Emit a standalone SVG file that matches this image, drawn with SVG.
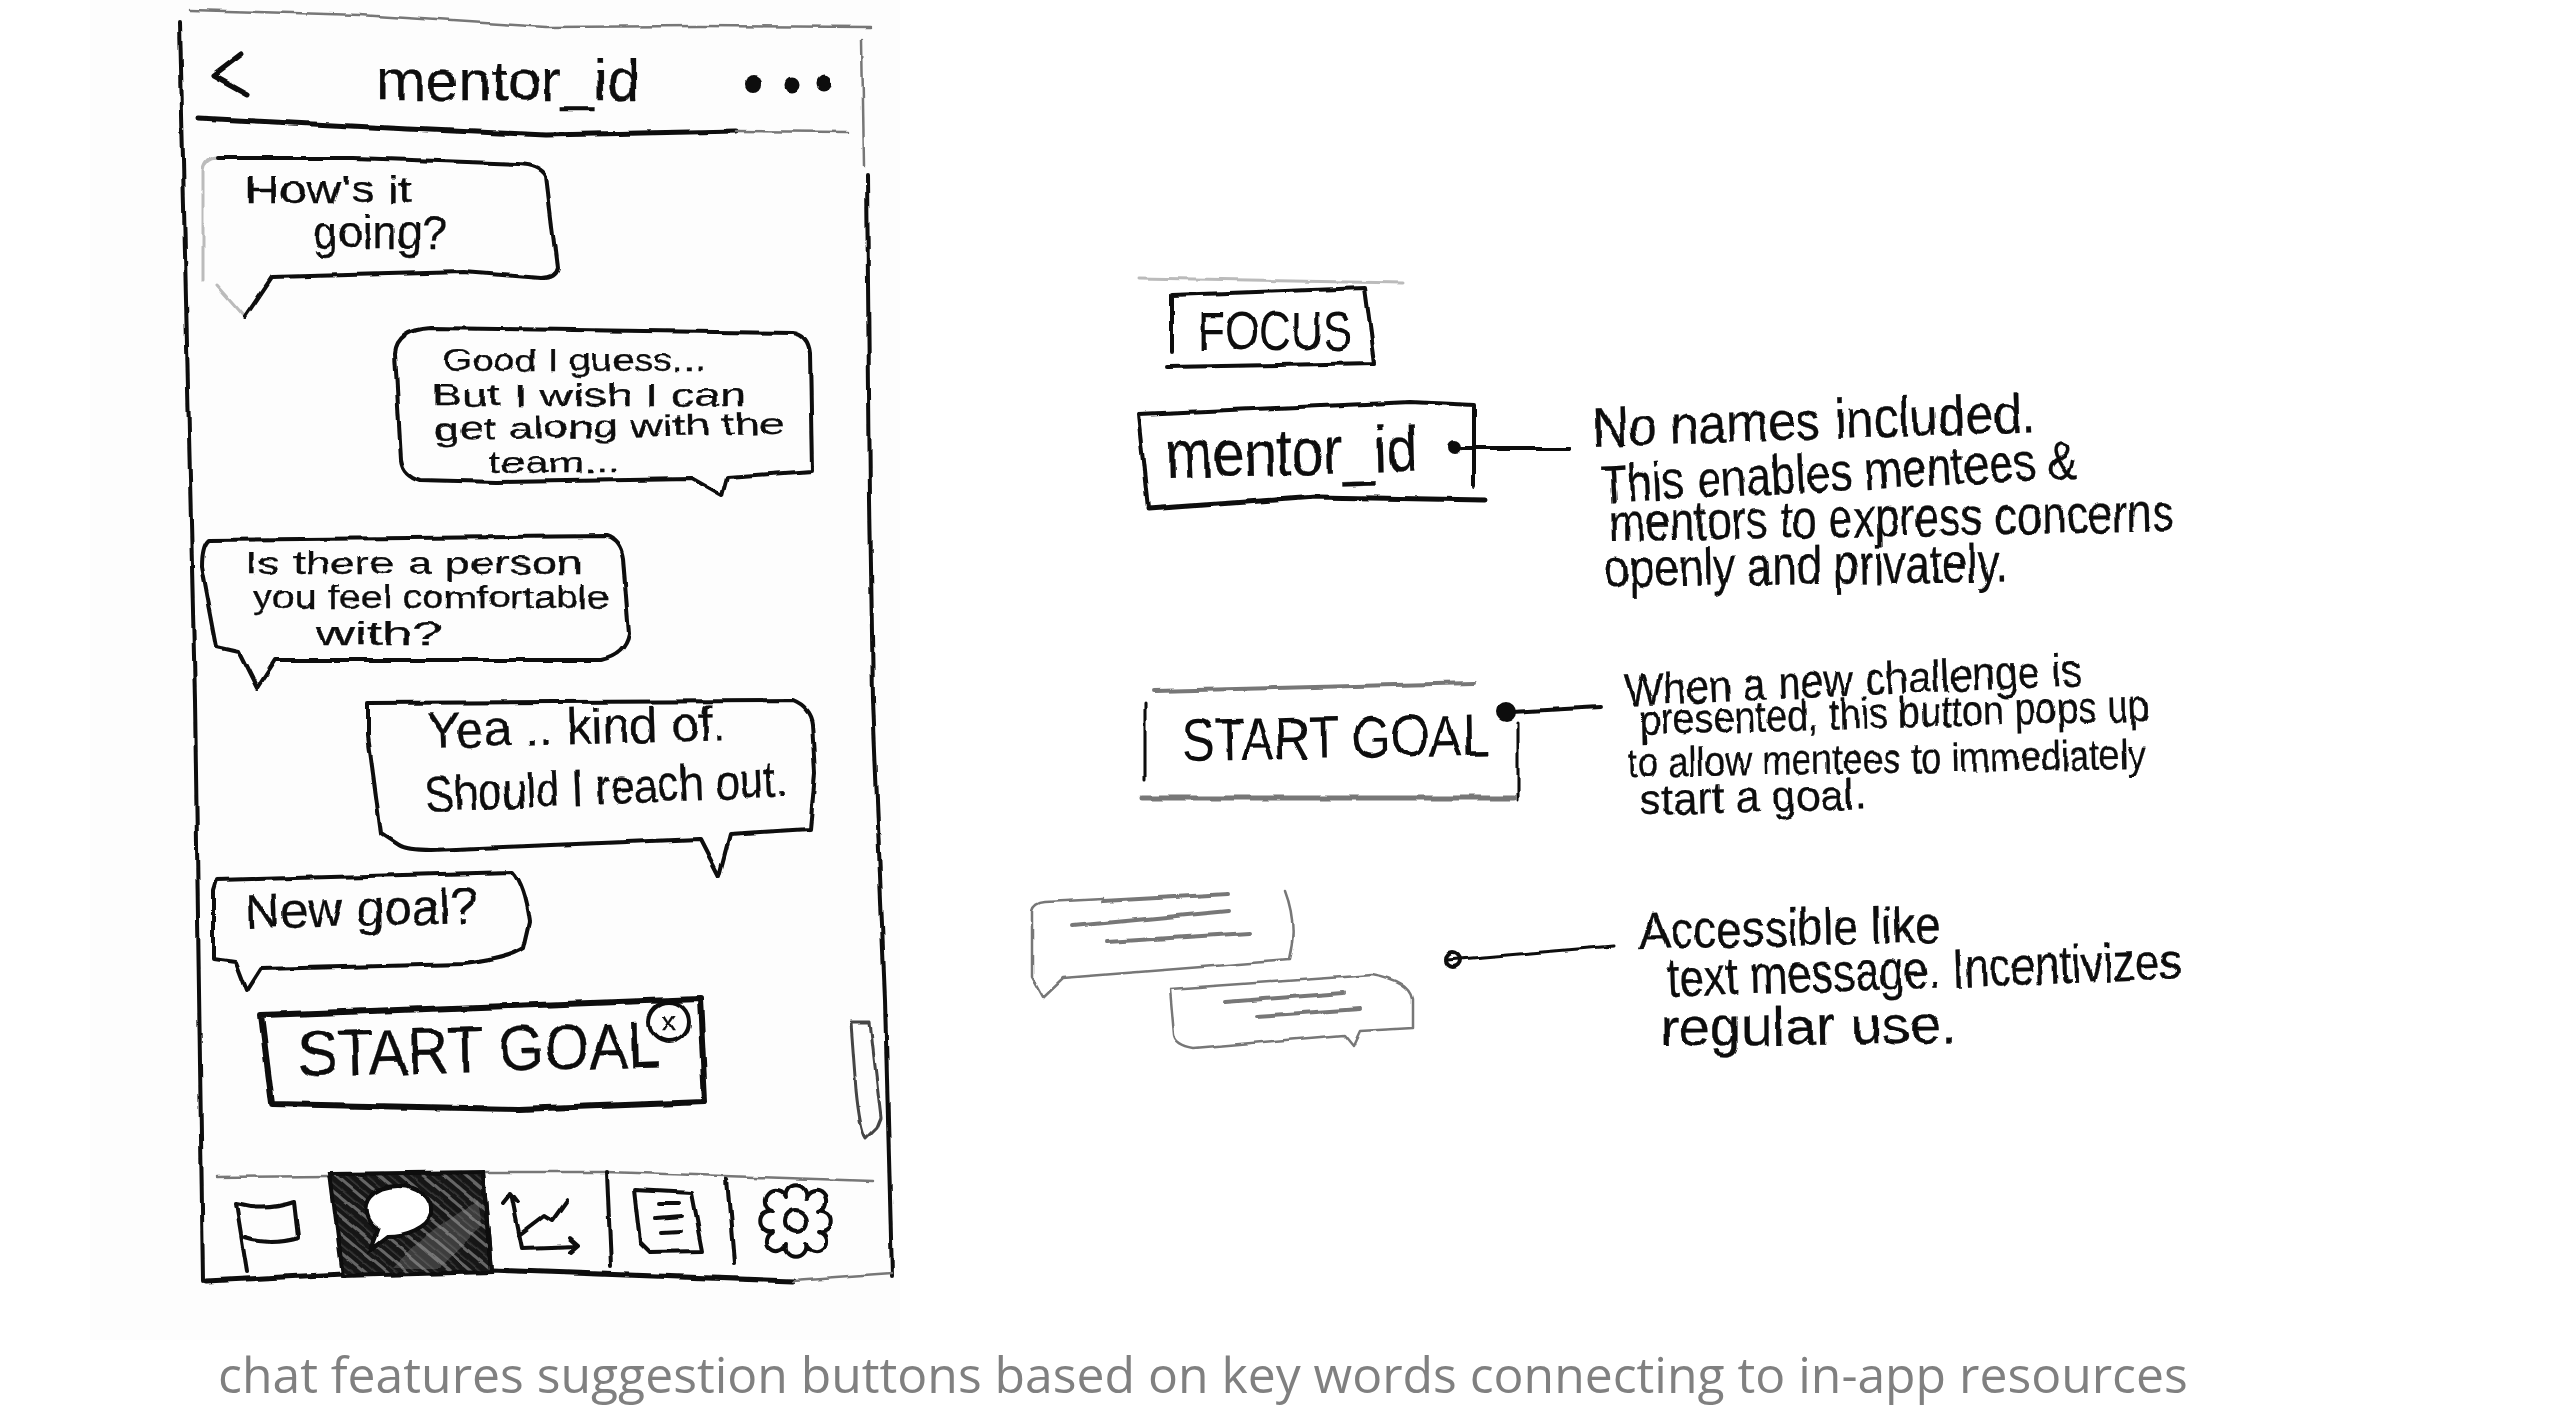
<svg xmlns="http://www.w3.org/2000/svg" width="2560" height="1411" viewBox="0 0 2560 1411">
<style>
.s{fill:none;stroke:#0a0a0a;stroke-width:4;stroke-linejoin:round;stroke-linecap:round}
.f{fill:none;stroke:#777;stroke-width:2.5;stroke-linejoin:round;stroke-linecap:round}
.g{fill:none;stroke:#bbb;stroke-width:3;stroke-linejoin:round;stroke-linecap:round}
.h{font-family:"Liberation Sans",Arial,sans-serif;fill:#0a0a0a;stroke:#0a0a0a;stroke-width:.25}
.c{font-family:"Open Sans",sans-serif;fill:#808080;font-size:49.850px}
</style>
<defs>
<filter id="w" x="-5%" y="-5%" width="110%" height="110%">
<feTurbulence type="fractalNoise" baseFrequency="0.035" numOctaves="2" seed="4"/>
<feDisplacementMap in="SourceGraphic" scale="5" xChannelSelector="R" yChannelSelector="G"/>
<feGaussianBlur stdDeviation="0.5"/>
</filter>
<pattern id="hatch" width="14" height="14" patternUnits="userSpaceOnUse" patternTransform="rotate(-50)">
<rect width="14" height="14" fill="#161616"/>
<rect width="3" height="14" fill="#666"/>
<rect x="7" width="1.500" height="14" fill="#3a3a3a"/>
</pattern>
</defs>
<rect width="2560" height="1411" fill="#fff"/>
<rect x="90" y="0" width="810" height="1340" fill="#fdfdfd"/>
<g id="phone" filter="url(#w)">
<path class="f" d="M190 10L360 15L546 27L700 26L870 27"/>
<path class="s" d="M180 22L186 300L195 700L203 1281"/>
<path class="f" d="M862 40L864 165"/>
<path class="s" d="M867 174L870 500L873 700L885 1000L892 1277"/>
<path class="s" style="stroke-width:5" d="M206 1281L343 1274L491 1270L793 1281"/>
<path class="f" d="M793 1281L892 1274"/>
</g>
<g id="header" filter="url(#w)">
<path class="s" style="stroke-width:5" d="M242 54L213 76L247 95"/>
<text class="h" x="376" y="100" font-size="58" textLength="264" lengthAdjust="spacingAndGlyphs">mentor_id</text>
<circle cx="753" cy="84" r="8" fill="#0a0a0a"/><circle cx="792" cy="85" r="7.500" fill="#0a0a0a"/><circle cx="824" cy="84" r="7.500" fill="#0a0a0a"/>
<path class="s" style="stroke-width:5" d="M198 118L409 129L546 135L738 131"/>
<path class="f" d="M738 131L848 132"/>
</g>
<g id="bubble-1" filter="url(#w)">
<path class="g" d="M217 285L245 317M203 170L203 280M203 170Q205 158 217 158"/>
<path class="s" d="M217 158L354 158L519 164Q540 165 546 176L557 268Q555 278 541 278L464 272L272 277L245 317"/>
<text class="h" x="245" y="203" font-size="38" textLength="167" lengthAdjust="spacingAndGlyphs">How's it</text>
<text class="h" x="313" y="248" font-size="46" textLength="134" lengthAdjust="spacingAndGlyphs">going?</text>
</g>
<g id="bubble-2" filter="url(#w)">
<path class="s" d="M431 328L793 333Q808 335 810 353L812 471L727 477L722 496L692 479L497 482L420 480Q403 475 401 460L395 353Q397 330 431 328Z"/>
<text class="h" x="442" y="371" font-size="32" textLength="263" lengthAdjust="spacingAndGlyphs">Good I guess...</text>
<text class="h" x="431" y="406" font-size="31" textLength="315" lengthAdjust="spacingAndGlyphs">But I wish I can</text>
<text class="h" x="434" y="440" font-size="31" textLength="351" lengthAdjust="spacingAndGlyphs" transform="rotate(-1 434 440)">get along with the</text>
<text class="h" x="489" y="473" font-size="30" textLength="131" lengthAdjust="spacingAndGlyphs">team...</text>
</g>
<g id="bubble-3" filter="url(#w)">
<path class="s" d="M209 540L607 536Q620 540 623 558L629 634Q625 655 601 660L275 660L257 688L239 652L217 647L202 567Q202 545 209 540Z"/>
<text class="h" x="245" y="574" font-size="32" textLength="337" lengthAdjust="spacingAndGlyphs">Is there a person</text>
<text class="h" x="253" y="608" font-size="31" textLength="356" lengthAdjust="spacingAndGlyphs">you feel comfortable</text>
<text class="h" x="316" y="645" font-size="33" textLength="126" lengthAdjust="spacingAndGlyphs">with?</text>
</g>
<g id="bubble-4" filter="url(#w)">
<path class="s" d="M368 703L793 701Q810 708 812 724L815 773L810 829L730 834L719 876L700 839L431 850Q405 850 398 845L381 834L368 736Z"/>
<text class="h" x="428" y="748" font-size="50" textLength="299" lengthAdjust="spacingAndGlyphs" transform="rotate(-1.500 428 748)">Yea .. kind of.</text>
<text class="h" x="426" y="812" font-size="50" textLength="362" lengthAdjust="spacingAndGlyphs" transform="rotate(-2.500 426 812)">Should I reach out.</text>
</g>
<g id="bubble-5" filter="url(#w)">
<path class="s" d="M217 880L513 872Q525 885 530 922L524 948Q510 958 464 964L261 969L247 991L236 962L214 959L214 890Z"/>
<text class="h" x="245" y="929" font-size="50" textLength="233" lengthAdjust="spacingAndGlyphs" transform="rotate(-1.500 245 929)">New goal?</text>
</g>
<g id="start-goal-button" filter="url(#w)">
<path class="s" style="stroke-width:6" d="M261 1015L480 1007L700 999L705 1102L519 1109L272 1104Z"/>
<text class="h" x="299" y="1076" font-size="64" textLength="362" lengthAdjust="spacingAndGlyphs" transform="rotate(-1.500 299 1076)">START GOAL</text>
<circle cx="669" cy="1022" r="20" class="s" style="stroke-width:4"/>
<text class="h" x="669" y="1031" font-size="28" text-anchor="middle">x</text>
</g>
<g id="scrollbar" filter="url(#w)">
<path class="f" style="stroke:#444;stroke-width:3" d="M851 1023L860 1023L870 1023L881 1118L877 1128L866 1139Q860 1130 856 1090Z"/>
</g>
<g id="tab-bar" filter="url(#w)">
<path class="f" d="M217 1177L330 1176M483 1172L607 1172L873 1181"/>
<path d="M330 1174L483 1172L491 1272L343 1276Z" fill="url(#hatch)" stroke="#0a0a0a" stroke-width="4"/>
<path d="M392 1268L425 1236L478 1200L482 1225L440 1268Z" fill="#999" opacity=".3"/>
<path d="M398 1186C420 1186 433 1198 431 1214C428 1228 405 1236 388 1236L371 1249L378 1230C365 1222 362 1206 370 1197C376 1190 386 1186 398 1186Z" fill="#fff" stroke="#0a0a0a" stroke-width="4"/>
<path class="s" d="M607 1172L611 1267M727 1179L734 1263M483 1172L491 1270"/>
<path class="s" d="M236 1204L247 1272M236 1204Q265 1212 294 1202L298 1237Q270 1245 245 1237"/>
<path class="s" d="M511 1193L522 1248L579 1246M503 1203L511 1193L518 1202M570 1238L579 1246L571 1253M519 1235L544 1216L552 1221L567 1200"/>
<path class="s" d="M634 1190L692 1193L703 1251L650 1252L640 1242Z"/>
<path class="s" d="M659 1204L678 1204M656 1218L681 1216M661 1232L681 1231"/>
<path class="s" d="M819 1211A10.300 10.300 0 1 1 819 1231A10.300 10.300 0 1 1 806 1244A10.300 10.300 0 1 1 786 1244A10.300 10.300 0 1 1 773 1231A10.300 10.300 0 1 1 773 1211A10.300 10.300 0 1 1 786 1198A10.300 10.300 0 1 1 806 1198A10.300 10.300 0 1 1 819 1211Z"/>
<circle cx="796" cy="1221" r="11" class="s"/>
</g>
<g id="focus-sample" filter="url(#w)">
<path class="g" d="M1138 278L1403 283"/>
<path class="s" d="M1172 352L1172 295L1365 288L1375 363L1168 367"/>
<text class="h" style="stroke-width:0" x="1198" y="350" font-size="56" textLength="154" lengthAdjust="spacingAndGlyphs">FOCUS</text>
</g>
<g id="mentor-id-sample" filter="url(#w)">
<path class="s" d="M1148 509L1138 414L1411 402L1474 405L1474 486"/>
<path class="s" style="stroke-width:5" d="M1148 509L1316 497L1484 500"/>
<text class="h" x="1166" y="478" font-size="66" textLength="253" lengthAdjust="spacingAndGlyphs" transform="rotate(-1.500 1166 478)">mentor_id</text>
</g>
<g id="start-goal-sample" filter="url(#w)">
<path class="f" d="M1154 691L1474 683" style="stroke-width:4"/>
<path class="s" style="stroke-width:3" d="M1145 704L1145 780M1518 723L1518 800"/>
<path class="f" style="stroke-width:5" d="M1142 798L1514 798"/>
<text class="h" style="stroke-width:0" x="1182" y="761" font-size="60" textLength="308" lengthAdjust="spacingAndGlyphs" transform="rotate(-1 1182 761)">START GOAL</text>
</g>
<g id="bubbles-sample" filter="url(#w)">
<path class="f" d="M1285 891Q1298 925 1289 960L1063 978L1043 997L1032 977L1032 910Q1034 902 1045 901L1103 898"/>
<path class="f" d="M1103 901L1229 894M1073 926L1229 911M1107 942L1249 933" style="stroke-width:4"/>
<path class="f" d="M1170 989L1372 975Q1410 982 1413 1000L1413 1028L1360 1031L1353 1046L1344 1035L1194 1048Q1176 1045 1174 1035Z"/>
<path class="f" d="M1225 1002L1344 993M1257 1016L1360 1009" style="stroke-width:4"/>
</g>
<g id="connectors" filter="url(#w)">
<circle cx="1455" cy="447" r="7" fill="#0a0a0a"/>
<path class="s" d="M1462 448L1569 448"/>
<circle cx="1506" cy="712" r="10" fill="#0a0a0a"/>
<path class="s" d="M1512 712L1601 707"/>
<circle cx="1453" cy="960" r="7" class="s"/>
<path class="s" style="stroke-width:3" d="M1447 960L1613 946"/>
</g>
<g id="note-1" filter="url(#w)">
<text class="h" x="1593" y="447" font-size="56" textLength="443" lengthAdjust="spacingAndGlyphs" transform="rotate(-1.900 1593 447)">No names included.</text>
<text class="h" x="1601" y="503" font-size="54" textLength="478" lengthAdjust="spacingAndGlyphs" transform="rotate(-3 1601 503)">This enables mentees &amp;</text>
<text class="h" x="1609" y="541" font-size="54" textLength="565" lengthAdjust="spacingAndGlyphs" transform="rotate(-1 1609 541)">mentors to express concerns</text>
<text class="h" x="1605" y="587" font-size="54" textLength="403" lengthAdjust="spacingAndGlyphs" transform="rotate(-.8 1605 587)">openly and privately.</text>
</g>
<g id="note-2" filter="url(#w)">
<text class="h" x="1625" y="706" font-size="46" textLength="458" lengthAdjust="spacingAndGlyphs" transform="rotate(-2.600 1625 706)">When a new challenge is</text>
<text class="h" x="1640" y="735" font-size="44" textLength="510" lengthAdjust="spacingAndGlyphs" transform="rotate(-1.600 1640 735)">presented, this button pops up</text>
<text class="h" x="1628" y="777" font-size="42" textLength="518" lengthAdjust="spacingAndGlyphs" transform="rotate(-.9 1628 777)">to allow mentees to immediately</text>
<text class="h" x="1640" y="815" font-size="44" textLength="226" lengthAdjust="spacingAndGlyphs" transform="rotate(-1.500 1640 815)">start a goal.</text>
</g>
<g id="note-3" filter="url(#w)">
<text class="h" x="1640" y="949" font-size="52" textLength="301" lengthAdjust="spacingAndGlyphs" transform="rotate(-1.300 1640 949)">Accessible like</text>
<text class="h" x="1668" y="997" font-size="54" textLength="514" lengthAdjust="spacingAndGlyphs" transform="rotate(-2 1668 997)">text message. Incentivizes</text>
<text class="h" x="1660" y="1046" font-size="54" textLength="297" lengthAdjust="spacingAndGlyphs" transform="rotate(-.5 1660 1046)">regular use.</text>
</g>
<text class="c" x="218" y="1393">chat features suggestion buttons based on key words connecting to in-app resources</text>
</svg>
